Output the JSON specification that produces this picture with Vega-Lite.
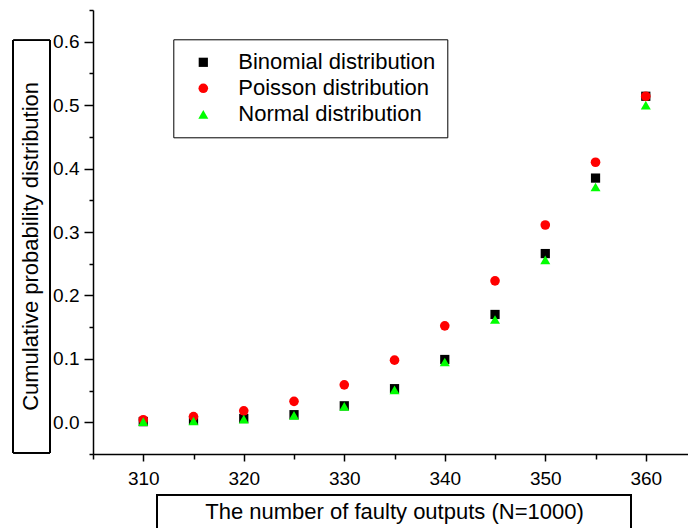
{
  "$schema": "https://vega.github.io/schema/vega-lite/v6.json",
  "width": 595,
  "height": 444,
  "autosize": {"type": "none"},
  "padding": {"left": 93, "top": 10, "right": 0, "bottom": 74},
  "background": "white",
  "config": {"view": {"stroke": null}, "font": "Liberation Sans"},
  "data": {
    "values": [
      {"n": 310, "series": "Binomial distribution", "p": 0.001},
      {"n": 315, "series": "Binomial distribution", "p": 0.003},
      {"n": 320, "series": "Binomial distribution", "p": 0.006},
      {"n": 325, "series": "Binomial distribution", "p": 0.012},
      {"n": 330, "series": "Binomial distribution", "p": 0.026},
      {"n": 335, "series": "Binomial distribution", "p": 0.053},
      {"n": 340, "series": "Binomial distribution", "p": 0.099},
      {"n": 345, "series": "Binomial distribution", "p": 0.170},
      {"n": 350, "series": "Binomial distribution", "p": 0.266},
      {"n": 355, "series": "Binomial distribution", "p": 0.385},
      {"n": 360, "series": "Binomial distribution", "p": 0.514},
      {"n": 310, "series": "Poisson distribution", "p": 0.004},
      {"n": 315, "series": "Poisson distribution", "p": 0.009},
      {"n": 320, "series": "Poisson distribution", "p": 0.018},
      {"n": 325, "series": "Poisson distribution", "p": 0.033},
      {"n": 330, "series": "Poisson distribution", "p": 0.059},
      {"n": 335, "series": "Poisson distribution", "p": 0.098},
      {"n": 340, "series": "Poisson distribution", "p": 0.152},
      {"n": 345, "series": "Poisson distribution", "p": 0.223},
      {"n": 350, "series": "Poisson distribution", "p": 0.311},
      {"n": 355, "series": "Poisson distribution", "p": 0.410},
      {"n": 360, "series": "Poisson distribution", "p": 0.514},
      {"n": 310, "series": "Normal distribution", "p": 0.001},
      {"n": 315, "series": "Normal distribution", "p": 0.002},
      {"n": 320, "series": "Normal distribution", "p": 0.005},
      {"n": 325, "series": "Normal distribution", "p": 0.011},
      {"n": 330, "series": "Normal distribution", "p": 0.025},
      {"n": 335, "series": "Normal distribution", "p": 0.051},
      {"n": 340, "series": "Normal distribution", "p": 0.095},
      {"n": 345, "series": "Normal distribution", "p": 0.162},
      {"n": 350, "series": "Normal distribution", "p": 0.256},
      {"n": 355, "series": "Normal distribution", "p": 0.371},
      {"n": 360, "series": "Normal distribution", "p": 0.500}
    ]
  },
  "resolve": {"axis": {"x": "independent", "y": "independent"}},
  "layer": [
    {
      "mark": {"type": "point", "filled": true, "opacity": 1, "strokeWidth": 0},
      "encoding": {
        "x": {
          "field": "n", "type": "quantitative",
          "scale": {"domain": [305, 364.2], "nice": false, "zero": false},
          "axis": {
            "orient": "bottom",
            "title": "The number of faulty outputs (N=1000)",
            "values": [310, 320, 330, 340, 350, 360],
            "tickSize": 7,
            "grid": false, "domainColor": "black", "tickColor": "black", "domainWidth": 1.5, "tickWidth": 1.5,
            "labelColor": "black", "labelFontSize": 19, "labelPadding": 8, "labelFlush": false, "labelOverlap": false,
            "titleFontSize": 22, "titleFontWeight": "normal", "titleColor": "black",
            "titleX": 301, "titleY": 64.3, "titleAlign": "center", "titleBaseline": "alphabetic"
          }
        },
        "y": {
          "field": "p", "type": "quantitative",
          "scale": {"domain": [-0.05, 0.65], "nice": false, "zero": false},
          "axis": {
            "orient": "left",
            "title": "Cumulative probability distribution",
            "values": [0, 0.1, 0.2, 0.3, 0.4, 0.5, 0.6],
            "format": ".1f",
            "tickSize": 9,
            "grid": false, "domainColor": "black", "tickColor": "black", "domainWidth": 1.5, "tickWidth": 1.5,
            "labelColor": "black", "labelFontSize": 19, "labelPadding": 5, "labelFlush": false, "labelOverlap": false,
            "titleFontSize": 22, "titleFontWeight": "normal", "titleColor": "black", "titleAngle": -90,
            "titleX": -56, "titleY": 235.9, "titleAlign": "center", "titleBaseline": "alphabetic"
          }
        },
        "shape": {
          "field": "series", "type": "nominal",
          "scale": {"domain": ["Binomial distribution", "Poisson distribution", "Normal distribution"], "range": ["square", "circle", "triangle-up"]},
          "legend": {
            "orient": "none", "legendX": 80.3, "legendY": 29.3, "title": null,
            "strokeColor": "black", "padding": 12, "symbolOffset": 7, "labelOffset": 24, "rowPadding": 4,
            "labelFontSize": 22, "labelColor": "black", "labelFont": "Liberation Sans", "labelLimit": 400
          }
        },
        "color": {
          "field": "series", "type": "nominal",
          "scale": {"domain": ["Binomial distribution", "Poisson distribution", "Normal distribution"], "range": ["#000000", "#ff0000", "#00ff00"]},
          "legend": {
            "orient": "none", "legendX": 80.3, "legendY": 29.3, "title": null,
            "strokeColor": "black", "padding": 12, "symbolOffset": 7, "labelOffset": 24, "rowPadding": 4,
            "labelFontSize": 22, "labelColor": "black", "labelFont": "Liberation Sans", "labelLimit": 400
          }
        },
        "size": {
          "field": "series", "type": "nominal",
          "scale": {"domain": ["Binomial distribution", "Poisson distribution", "Normal distribution"], "range": [85, 100, 150]},
          "legend": {
            "orient": "none", "legendX": 80.3, "legendY": 29.3, "title": null,
            "strokeColor": "black", "padding": 12, "symbolOffset": 7, "labelOffset": 24, "rowPadding": 4,
            "labelFontSize": 22, "labelColor": "black", "labelFont": "Liberation Sans", "labelLimit": 400
          }
        }
      }
    },
    {
      "mark": {"type": "rect", "fill": null, "stroke": "black", "strokeWidth": 1},
      "encoding": {
        "x": {
          "datum": 297.07, "type": "quantitative",
          "axis": {
            "orient": "bottom", "title": null, "values": [305, 315, 325, 335, 345, 355],
            "tickSize": 5, "labels": false, "domain": false, "grid": false, "tickColor": "black", "tickWidth": 1.5
          }
        },
        "x2": {"datum": 300.72},
        "y": {
          "datum": 0.602, "type": "quantitative",
          "axis": {
            "orient": "left", "title": null, "values": [-0.05, 0.05, 0.15, 0.25, 0.35, 0.45, 0.55, 0.65],
            "tickSize": 4, "labels": false, "domain": false, "grid": false, "tickColor": "black", "tickWidth": 1.5
          }
        },
        "y2": {"datum": -0.0478}
      }
    },
    {
      "mark": {"type": "rect", "fill": null, "stroke": "black", "strokeWidth": 1},
      "encoding": {
        "x": {"datum": 311.36, "type": "quantitative", "axis": null},
        "x2": {"datum": 358.51},
        "y": {"datum": -0.114, "type": "quantitative", "axis": null},
        "y2": {"datum": -0.19}
      }
    }
  ]
}
